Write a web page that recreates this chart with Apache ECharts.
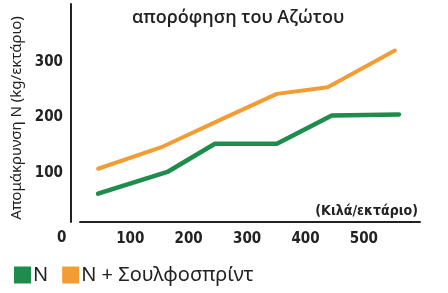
<!DOCTYPE html>
<html>
<head>
<meta charset="utf-8">
<script src="https://cdn.jsdelivr.net/npm/echarts@6/dist/echarts.min.js"></script>
<style>
  html, body { margin: 0; padding: 0; background: #fff; }
  #chart1 { width: 448px; height: 293px; }
</style>
</head>
<body>
<div id="chart1"></div>
<script>
// data
var x_N = [45, 165, 245, 351, 445, 560];
var y_N = [62, 102, 152, 152, 203, 205];
var x_NS = [45, 156, 254, 351, 438, 553];
var y_NS = [107, 147, 195, 242, 254, 320];
var xTicks = [100, 200, 300, 400, 500];
var yTicks = [100, 200, 300];
var seriesNames = ['N', 'N + Σουλφοσπρίντ'];

function pairs(xs, ys) {
    var out = [];
    for (var i = 0; i < xs.length; i++) {
        out.push([xs[i], ys[i]]);
    }
    return out;
}

var dom1 = document.getElementById('chart1');
var Chart1 = echarts.init(dom1);

var boldNarrow = '"Liberation Sans Narrow", "DejaVu Sans Condensed", sans-serif';

var option1 = {
    animation: false,
    color: ['#1e8c4c', '#f39c34'],
    title: {
        text: 'απορόφηση του Αζώτου',
        left: 127,
        top: 4,
        textStyle: {
            fontFamily: '"Open Sans", "Noto Sans", sans-serif',
            fontSize: 18,
            fontWeight: 600,
            color: '#222'
        }
    },
    legend: {
        data: seriesNames,
        left: 14,
        top: 265,
        padding: 0,
        icon: 'rect',
        itemWidth: 17,
        itemHeight: 17,
        itemGap: 14,
        textStyle: {
            fontFamily: '"Noto Sans", "Open Sans", sans-serif',
            fontSize: 20,
            color: '#222',
            padding: [0, 0, 0, -3]
        }
    },
    grid: {
        left: 80,
        right: 28,
        top: 4,
        bottom: 71
    },
    graphic: [{
        type: 'text',
        left: 57,
        top: 231,
        style: {
            text: '0',
            font: 'bold 15px ' + boldNarrow,
            fill: '#222'
        }
    }],
    xAxis: {
        type: 'value',
        min: 14,
        max: 596,
        name: '(Κιλά/εκτάριο)',
        nameLocation: 'end',
        nameGap: 0,
        nameTextStyle: {
            fontFamily: boldNarrow,
            fontWeight: 'bold',
            fontSize: 14,
            color: '#222',
            align: 'right',
            verticalAlign: 'bottom',
            padding: [0, 2, 4, 0]
        },
        axisLine: { lineStyle: { color: '#222', width: 2 } },
        axisTick: { show: false },
        splitLine: { show: false },
        axisLabel: {
            customValues: xTicks,
            margin: 10,
            fontFamily: boldNarrow,
            fontWeight: 'bold',
            fontSize: 15,
            color: '#222'
        }
    },
    yAxis: {
        type: 'value',
        min: 11,
        max: 404,
        offset: 9,
        name: 'Απομάκρυνση N (kg/εκτάριο)',
        nameLocation: 'middle',
        nameGap: 40,
        nameTextStyle: {
            fontFamily: '"Noto Sans", "Open Sans", sans-serif',
            fontSize: 15,
            color: '#222',
            padding: [0, 10, 0, 0]
        },
        axisLine: { show: true, lineStyle: { color: '#222', width: 2 } },
        axisTick: { show: false },
        splitLine: { show: false },
        axisLabel: {
            customValues: yTicks,
            margin: 8,
            fontFamily: boldNarrow,
            fontWeight: 'bold',
            fontSize: 15,
            color: '#222'
        }
    },
    series: [
        {
            name: seriesNames[0],
            type: 'line',
            showSymbol: false,
            lineStyle: { width: 4.5, cap: 'round', join: 'round' },
            data: pairs(x_N, y_N)
        },
        {
            name: seriesNames[1],
            type: 'line',
            showSymbol: false,
            lineStyle: { width: 4, cap: 'round', join: 'round' },
            data: pairs(x_NS, y_NS)
        }
    ]
};

Chart1.setOption(option1);
</script>
</body>
</html>
